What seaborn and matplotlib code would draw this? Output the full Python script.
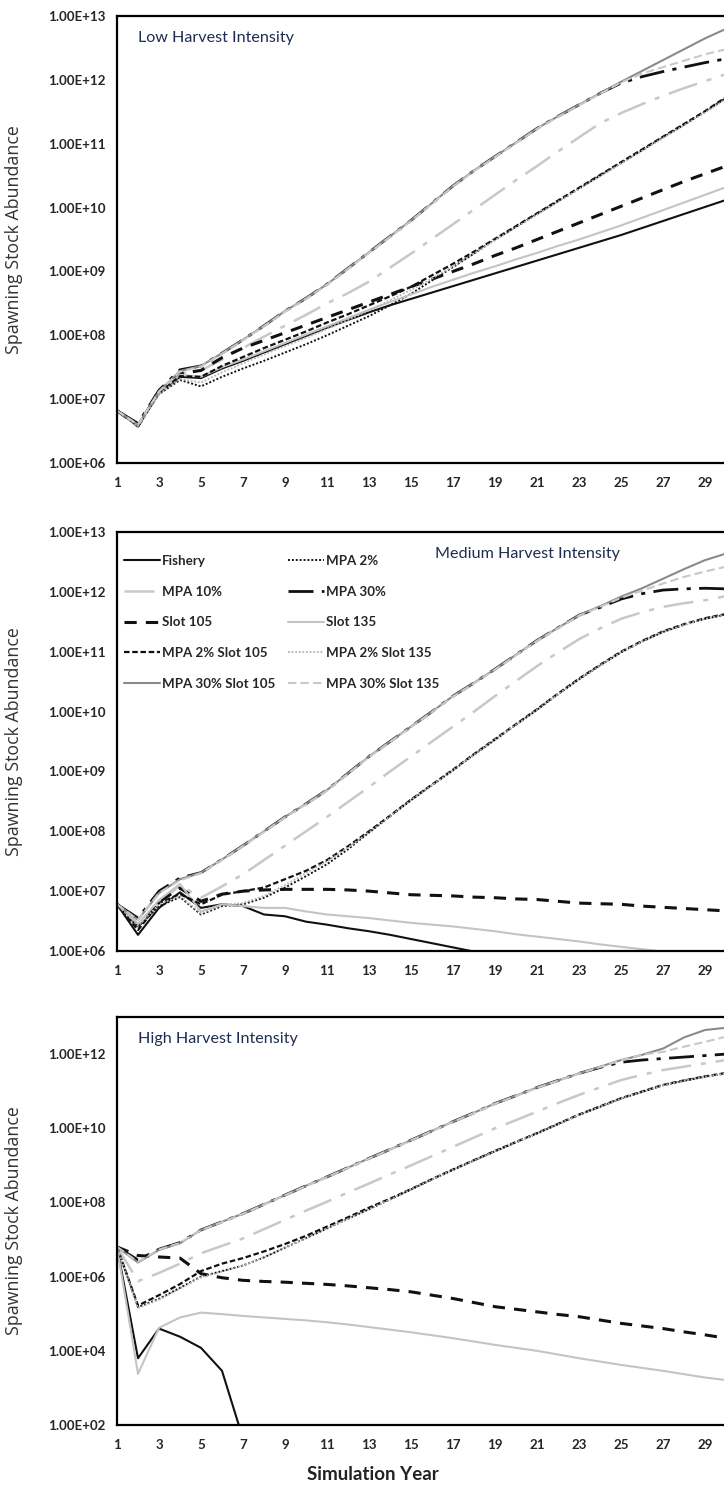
import numpy as np
import pandas as pd
import matplotlib
matplotlib.use('Agg')
import matplotlib.pyplot as plt
import seaborn as sns
from matplotlib.ticker import FixedLocator, MultipleLocator, FuncFormatter, NullLocator
from matplotlib.lines import Line2D

# Values are log10(spawning stock abundance), years 1..30
years = list(range(1, 31))

# --- Low harvest intensity ---
low_fishery = [6.82, 6.58, 7.10, 7.35, 7.33, 7.48, 7.60, 7.73, 7.86, 7.99, 8.12, 8.24, 8.36, 8.47, 8.57,
               8.67, 8.77, 8.87, 8.97, 9.07, 9.17, 9.27, 9.37, 9.47, 9.57, 9.68, 9.79, 9.90, 10.01, 10.12]
low_mpa2 = [6.82, 6.58, 7.08, 7.30, 7.20, 7.35, 7.48, 7.60, 7.73, 7.86, 8.00, 8.15, 8.30, 8.47, 8.65,
            8.86, 9.07, 9.28, 9.50, 9.70, 9.90, 10.10, 10.30, 10.50, 10.70, 10.90, 11.10, 11.30, 11.50, 11.72]
low_mpa10 = [6.82, 6.58, 7.10, 7.40, 7.45, 7.62, 7.80, 7.98, 8.15, 8.32, 8.50, 8.66, 8.84, 9.06, 9.28,
             9.51, 9.74, 9.97, 10.20, 10.43, 10.65, 10.88, 11.10, 11.32, 11.48, 11.62, 11.75, 11.87, 11.98, 12.09]
low_mpa30 = [6.82, 6.62, 7.14, 7.46, 7.52, 7.72, 7.93, 8.15, 8.38, 8.58, 8.80, 9.05, 9.30, 9.55, 9.80,
             10.07, 10.34, 10.58, 10.80, 11.02, 11.24, 11.43, 11.61, 11.79, 11.95, 12.05, 12.13, 12.20, 12.27, 12.33]
low_slot105 = [6.82, 6.58, 7.12, 7.40, 7.45, 7.65, 7.80, 7.92, 8.04, 8.16, 8.28, 8.40, 8.52, 8.64, 8.76,
               8.88, 9.00, 9.12, 9.25, 9.37, 9.50, 9.63, 9.76, 9.89, 10.02, 10.15, 10.28, 10.41, 10.53, 10.65]
low_slot135 = [6.82, 6.58, 7.10, 7.38, 7.35, 7.50, 7.62, 7.75, 7.88, 8.01, 8.14, 8.27, 8.40, 8.52, 8.64,
               8.76, 8.87, 8.98, 9.08, 9.19, 9.29, 9.40, 9.50, 9.61, 9.72, 9.84, 9.96, 10.08, 10.20, 10.32]
low_mpa2_slot105 = [6.82, 6.58, 7.10, 7.36, 7.35, 7.52, 7.66, 7.80, 7.93, 8.06, 8.20, 8.33, 8.47, 8.61, 8.76,
                    8.94, 9.12, 9.31, 9.51, 9.71, 9.91, 10.11, 10.31, 10.51, 10.71, 10.91, 11.11, 11.31, 11.51, 11.73]
low_mpa2_slot135 = [6.82, 6.58, 7.08, 7.32, 7.26, 7.42, 7.56, 7.70, 7.83, 7.96, 8.10, 8.24, 8.39, 8.55, 8.71,
                    8.89, 9.08, 9.28, 9.49, 9.69, 9.89, 10.09, 10.29, 10.49, 10.69, 10.89, 11.09, 11.29, 11.49, 11.70]
low_mpa30_slot105 = [6.82, 6.60, 7.12, 7.44, 7.52, 7.72, 7.93, 8.15, 8.38, 8.58, 8.80, 9.05, 9.30, 9.55, 9.80,
                     10.07, 10.34, 10.58, 10.80, 11.02, 11.24, 11.43, 11.61, 11.79, 11.97, 12.14, 12.31, 12.48, 12.65, 12.80]
low_mpa30_slot135 = [6.82, 6.60, 7.12, 7.43, 7.51, 7.71, 7.92, 8.14, 8.37, 8.57, 8.79, 9.04, 9.29, 9.54, 9.79,
                     10.06, 10.33, 10.57, 10.79, 11.01, 11.23, 11.42, 11.60, 11.78, 11.96, 12.10, 12.20, 12.30, 12.40, 12.48]

# --- Medium harvest intensity ---
mid_fishery = [6.78, 6.27, 6.72, 6.98, 6.72, 6.78, 6.75, 6.61, 6.58, 6.49, 6.44, 6.38, 6.33, 6.27, 6.20,
               6.13, 6.06, 5.99, 5.95, 5.88, None, None, None, None, None, None, None, None, None, None]
mid_mpa2 = [6.78, 6.40, 6.75, 6.90, 6.61, 6.75, 6.78, 6.89, 7.06, 7.25, 7.45, 7.70, 7.98, 8.25, 8.52,
            8.77, 9.02, 9.28, 9.53, 9.78, 10.03, 10.29, 10.54, 10.77, 10.99, 11.17, 11.33, 11.45, 11.55, 11.62]
mid_mpa10 = [6.78, 6.45, 6.80, 7.10, 6.89, 7.08, 7.28, 7.52, 7.76, 8.00, 8.24, 8.49, 8.74, 9.00, 9.25,
             9.50, 9.75, 10.00, 10.26, 10.51, 10.76, 10.99, 11.21, 11.39, 11.55, 11.66, 11.75, 11.81, 11.86, 11.93]
mid_mpa30 = [6.78, 6.55, 7.00, 7.22, 7.31, 7.53, 7.76, 8.00, 8.24, 8.46, 8.69, 8.97, 9.25, 9.50, 9.75,
             10.00, 10.26, 10.48, 10.71, 10.95, 11.19, 11.40, 11.61, 11.74, 11.88, 11.97, 12.03, 12.05, 12.06, 12.05]
mid_slot105 = [6.78, 6.42, 6.82, 7.05, 6.83, 6.95, 7.00, 7.02, 7.03, 7.03, 7.03, 7.02, 7.00, 6.97, 6.94,
               6.93, 6.92, 6.90, 6.89, 6.87, 6.86, 6.83, 6.80, 6.79, 6.78, 6.75, 6.73, 6.71, 6.69, 6.67]
mid_slot135 = [6.78, 6.45, 6.85, 7.12, 6.66, 6.78, 6.75, 6.72, 6.72, 6.66, 6.61, 6.58, 6.55, 6.51, 6.47,
               6.44, 6.41, 6.37, 6.33, 6.28, 6.24, 6.20, 6.16, 6.11, 6.07, 6.03, 5.99, 5.94, 5.89, 5.84]
mid_mpa2_slot105 = [6.78, 6.35, 6.80, 6.95, 6.78, 6.94, 7.00, 7.06, 7.20, 7.34, 7.52, 7.75, 8.00, 8.26, 8.53,
                    8.78, 9.03, 9.29, 9.54, 9.79, 10.04, 10.30, 10.55, 10.78, 11.00, 11.18, 11.34, 11.46, 11.56, 11.63]
mid_mpa2_slot135 = [6.78, 6.42, 6.78, 6.92, 6.63, 6.77, 6.80, 6.92, 7.10, 7.30, 7.50, 7.73, 7.98, 8.25, 8.52,
                    8.77, 9.02, 9.28, 9.53, 9.78, 10.03, 10.29, 10.54, 10.77, 10.99, 11.17, 11.33, 11.45, 11.55, 11.62]
mid_mpa30_slot105 = [6.78, 6.52, 6.97, 7.20, 7.31, 7.53, 7.76, 8.00, 8.24, 8.46, 8.69, 8.97, 9.25, 9.50, 9.75,
                     10.00, 10.26, 10.48, 10.71, 10.95, 11.19, 11.40, 11.61, 11.76, 11.92, 12.06, 12.22, 12.38, 12.53, 12.64]
mid_mpa30_slot135 = [6.78, 6.52, 6.97, 7.18, 7.30, 7.52, 7.75, 7.99, 8.23, 8.45, 8.68, 8.96, 9.24, 9.49, 9.74,
                     9.99, 10.25, 10.47, 10.70, 10.94, 11.18, 11.39, 11.60, 11.75, 11.90, 12.02, 12.14, 12.25, 12.34, 12.42]

# --- High harvest intensity ---
high_fishery = [6.80, 3.80, 4.60, 4.38, 4.08, 3.46, 1.63, None, None, None, None, None, None, None, None,
                None, None, None, None, None, None, None, None, None, None, None, None, None, None, None]
high_mpa2 = [6.80, 5.18, 5.40, 5.70, 6.00, 6.15, 6.30, 6.52, 6.78, 7.04, 7.30, 7.56, 7.82, 8.08, 8.35,
             8.62, 8.88, 9.13, 9.38, 9.62, 9.86, 10.11, 10.36, 10.58, 10.80, 10.98, 11.16, 11.28, 11.39, 11.48]
high_mpa10 = [6.80, 5.88, 6.10, 6.35, 6.63, 6.83, 7.03, 7.28, 7.53, 7.78, 8.02, 8.27, 8.51, 8.76, 9.00,
              9.25, 9.50, 9.75, 10.00, 10.22, 10.45, 10.68, 10.90, 11.10, 11.30, 11.44, 11.57, 11.66, 11.75, 11.84]
high_mpa30 = [6.80, 6.45, 6.74, 6.92, 7.26, 7.48, 7.70, 7.95, 8.20, 8.45, 8.69, 8.94, 9.19, 9.43, 9.68,
              9.93, 10.18, 10.42, 10.67, 10.88, 11.10, 11.29, 11.48, 11.64, 11.78, 11.84, 11.88, 11.92, 11.96, 12.00]
high_slot105 = [6.80, 6.57, 6.53, 6.50, 6.08, 5.97, 5.90, 5.87, 5.85, 5.82, 5.79, 5.75, 5.70, 5.65, 5.59,
                5.50, 5.41, 5.30, 5.19, 5.12, 5.05, 4.98, 4.92, 4.83, 4.74, 4.67, 4.60, 4.51, 4.43, 4.34]
high_slot135 = [6.80, 3.38, 4.62, 4.90, 5.03, 4.99, 4.94, 4.90, 4.86, 4.82, 4.77, 4.71, 4.64, 4.57, 4.50,
                4.42, 4.34, 4.25, 4.16, 4.08, 4.00, 3.90, 3.80, 3.71, 3.62, 3.54, 3.46, 3.37, 3.28, 3.21]
high_mpa2_slot105 = [6.80, 5.22, 5.50, 5.80, 6.15, 6.35, 6.50, 6.68, 6.88, 7.10, 7.35, 7.60, 7.86, 8.10, 8.36,
                     8.63, 8.89, 9.14, 9.39, 9.63, 9.87, 10.12, 10.37, 10.59, 10.81, 10.99, 11.17, 11.29, 11.40, 11.49]
high_mpa2_slot135 = [6.80, 5.15, 5.38, 5.68, 5.98, 6.14, 6.30, 6.52, 6.78, 7.04, 7.30, 7.56, 7.82, 8.08, 8.35,
                     8.62, 8.88, 9.13, 9.38, 9.62, 9.86, 10.11, 10.36, 10.58, 10.80, 10.98, 11.16, 11.28, 11.39, 11.48]
high_mpa30_slot105 = [6.80, 6.38, 6.72, 6.90, 7.26, 7.48, 7.70, 7.95, 8.20, 8.45, 8.69, 8.94, 9.19, 9.43, 9.68,
                      9.93, 10.18, 10.42, 10.67, 10.88, 11.10, 11.29, 11.48, 11.66, 11.84, 11.98, 12.15, 12.45, 12.65, 12.71]
high_mpa30_slot135 = [6.80, 6.40, 6.73, 6.91, 7.25, 7.47, 7.69, 7.94, 8.19, 8.44, 8.68, 8.93, 9.18, 9.42, 9.67,
                      9.92, 10.17, 10.41, 10.66, 10.87, 11.09, 11.28, 11.47, 11.65, 11.83, 11.98, 12.06, 12.20, 12.33, 12.47]

series_names = ['Fishery', 'MPA 2%', 'MPA 10%', 'MPA 30%', 'Slot 105', 'Slot 135',
                'MPA 2% Slot 105', 'MPA 2% Slot 135', 'MPA 30% Slot 105', 'MPA 30% Slot 135']

panels = [
    ('Low Harvest Intensity', [low_fishery, low_mpa2, low_mpa10, low_mpa30, low_slot105, low_slot135,
                               low_mpa2_slot105, low_mpa2_slot135, low_mpa30_slot105, low_mpa30_slot135]),
    ('Medium Harvest Intensity', [mid_fishery, mid_mpa2, mid_mpa10, mid_mpa30, mid_slot105, mid_slot135,
                                  mid_mpa2_slot105, mid_mpa2_slot135, mid_mpa30_slot105, mid_mpa30_slot135]),
    ('High Harvest Intensity', [high_fishery, high_mpa2, high_mpa10, high_mpa30, high_slot105, high_slot135,
                                high_mpa2_slot105, high_mpa2_slot135, high_mpa30_slot105, high_mpa30_slot135]),
]

# colour, width, dash pattern per scenario
styles = {
    'Fishery':          ('#111111', 1.5, '-'),
    'MPA 2%':           ('#111111', 1.4, (0, (1, 1))),
    'MPA 10%':          ('#c8c8c8', 1.8, (0, (12, 4, 2, 4))),
    'MPA 30%':          ('#111111', 2.0, (0, (9, 3, 1.5, 3))),
    'Slot 105':         ('#111111', 2.2, (0, (4, 3))),
    'Slot 135':         ('#c4c4c4', 1.5, '-'),
    'MPA 2% Slot 105':  ('#111111', 1.6, (0, (2.5, 1.2))),
    'MPA 2% Slot 135':  ('#b4b4b4', 1.3, (0, (1, 1))),
    'MPA 30% Slot 105': ('#8a8a8a', 1.5, '-'),
    'MPA 30% Slot 135': ('#c8c8c8', 1.5, (0, (4, 2))),
}

sns.set_style('white')
BASE = ['Lato', 'DejaVu Sans']
plt.rcParams['font.family'] = BASE

fig = plt.figure(figsize=(7.24, 14.86), dpi=100)
W, H = 724, 1486
# axes boxes in pixels: left, top, bottom (right runs off the figure edge)
boxes = [(117, 16, 463), (117, 532, 951), (117, 1017, 1425)]
ylims = [(1e6, 1e13), (1e6, 1e13), (1e2, 1e13)]
yticks = [[10.0 ** k for k in range(6, 14)], [10.0 ** k for k in range(6, 14)],
          [10.0 ** k for k in range(2, 13, 2)]]
title_pos = [(0.035, 0.951), (0.524, 0.947), (0.035, 0.946)]

for i, (title, values) in enumerate(panels):
    left, top, bottom = boxes[i]
    ax = fig.add_axes([left / W, 1 - bottom / H, (W - left) / W, (bottom - top) / H])

    rows = []
    for name, vals in zip(series_names, values):
        for yr, v in zip(years, vals):
            if v is not None:
                rows.append({'year': yr, 'ssb': 10.0 ** v, 'series': name})
    df = pd.DataFrame(rows)

    for name in series_names:
        c, lw, ls = styles[name]
        sub = df[df['series'] == name]
        sns.lineplot(data=sub, x='year', y='ssb', color=c, linewidth=lw, linestyle=ls,
                     errorbar=None, legend=False, ax=ax)

    ax.set_yscale('log')
    ax.set_ylim(*ylims[i])
    ax.set_xlim(1, 29.9)
    ax.yaxis.set_major_locator(FixedLocator(yticks[i]))
    ax.yaxis.set_minor_locator(NullLocator())
    ax.yaxis.set_major_formatter(FuncFormatter(lambda v, p: f'{v:.2E}'))
    ax.xaxis.set_major_locator(FixedLocator(list(range(1, 30, 2))))
    ax.xaxis.set_minor_locator(MultipleLocator(1))
    ax.tick_params(axis='both', which='both', direction='out', length=5, width=1.3, color='black',
                   labelsize=9.6, pad=3)
    ax.tick_params(axis='x', which='major', pad=5)
    for lab in ax.get_xticklabels() + ax.get_yticklabels():
        lab.set_fontweight('bold')
    for side in ['left', 'bottom', 'top']:
        ax.spines[side].set_visible(True)
        ax.spines[side].set_color('black')
        ax.spines[side].set_linewidth(1.6)
    ax.spines['right'].set_visible(False)

    ax.set_xlabel('')
    ax.set_ylabel('Spawning Stock Abundance', fontsize=12.8, color='#333333',
                  family=['Open Sans', 'DejaVu Sans'])
    ax.yaxis.set_label_coords((23 - left) / (W - left), 0.5)

    ax.text(title_pos[i][0], title_pos[i][1], title, transform=ax.transAxes,
            ha='left', va='center', fontsize=11.6, color='#1f2d50')

    if i == 1:
        # legend fills row by row in the reference, so order handles column by column
        order = [0, 2, 4, 6, 8, 1, 3, 5, 7, 9]
        handles = []
        for k in order:
            c, lw, ls = styles[series_names[k]]
            handles.append(Line2D([0], [0], color=c, linewidth=lw, linestyle=ls))
        leg = ax.legend(handles, [series_names[k] for k in order], ncol=2, loc='upper left',
                        bbox_to_anchor=(0.012, 0.945), frameon=False, fontsize=9.6,
                        handlelength=2.7, handletextpad=0.15, labelspacing=1.4,
                        columnspacing=0.9, borderaxespad=0, borderpad=0)
        for t in leg.get_texts():
            t.set_fontweight('bold')

fig.text(373 / W, 1 - 1475 / H, 'Simulation Year', ha='center', va='center',
         fontsize=13.5, fontweight='bold', color='#222222')

fig.savefig('out.png', dpi=100)
